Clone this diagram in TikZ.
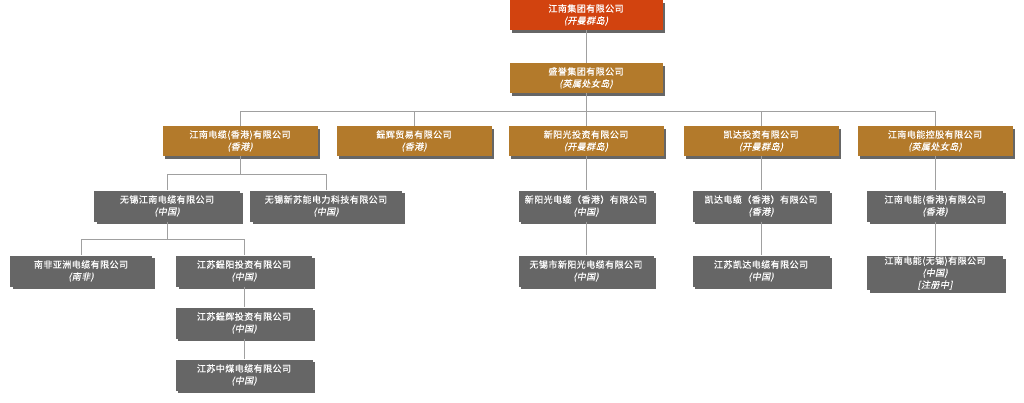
\documentclass[tikz,border=0pt]{standalone}
\usepackage{fontspec}
\usepackage{tikz}
\usetikzlibrary{shadows}
\newfontfamily\cjk[LetterSpace=5,FakeBold=0.6]{Noto Sans CJK SC}
\newfontfamily\cjkit[LetterSpace=5,FakeBold=0.6,FakeSlant=0.2]{Noto Sans CJK SC}
\definecolor{toporange}{HTML}{D2430F}
\definecolor{holdbrown}{HTML}{B37A2B}
\definecolor{subgray}{HTML}{666666}
\definecolor{linkgray}{HTML}{A0A0A0}

\begin{document}
\begin{tikzpicture}[
        x=1pt, y=-1pt,
        orgbox/.style={minimum height=30pt, inner sep=0pt, align=center, text=white,
            font=\cjk\fontsize{9}{12}\selectfont,
            drop shadow={shadow xshift=2.5pt, shadow yshift=-2.5pt, fill=black, opacity=0.6}},
        topbox/.style={orgbox, fill=toporange, minimum width=153pt},
        holdbox/.style={orgbox, fill=holdbrown, minimum width=155pt},
        subbox/.style={orgbox, fill=subgray, minimum width=136pt, minimum height=31pt},
        link/.style={draw=linkgray, line width=0.8pt}
    ]
    \useasboundingbox (0,0) rectangle (1024,402);

    % ---- TOP ----
    \node[topbox] (jiangnan) at (586, 15) {江南集团有限公司\\{\cjkit (开曼群岛)}};
    \node[holdbox, minimum width=153pt] (shengyu) at (586, 78) {盛誉集团有限公司\\{\cjkit (英属处女岛)}};

    % ---- LEVEL 2 ----
    \node[holdbox] (jncable) at (240, 141) {江南电缆(香港)有限公司\\{\cjkit (香港)}};
    \node[holdbox] (zenghui) at (414, 141) {鋥辉贸易有限公司\\{\cjkit (香港)}};
    \node[holdbox] (xyginv) at (586, 141) {新阳光投资有限公司\\{\cjkit (开曼群岛)}};
    \node[holdbox] (kdinv) at (761, 141) {凯达投资有限公司\\{\cjkit (开曼群岛)}};
    \node[holdbox] (jnpower) at (935, 141) {江南电能控股有限公司\\{\cjkit (英属处女岛)}};

    % ---- LEVEL 3 ----
    \node[subbox, minimum width=146pt] (wxjn) at (167, 206) {无锡江南电缆有限公司\\{\cjkit (中国)}};
    \node[subbox, minimum width=152pt] (wxxsn) at (326, 206) {无锡新苏能电力科技有限公司\\{\cjkit (中国)}};
    \node[subbox, minimum width=135pt] (xygcable) at (586, 206) {新阳光电缆（香港）有限公司\\{\cjkit (中国)}};
    \node[subbox, minimum width=137pt] (kdcable) at (761, 206) {凯达电缆（香港）有限公司\\{\cjkit (香港)}};
    \node[subbox] (jnpowerhk) at (935, 206) {江南电能(香港)有限公司\\{\cjkit (香港)}};

    % ---- LEVEL 4 ----
    \node[subbox, minimum width=142pt] (nanfei) at (81, 271) {南非亚洲电缆有限公司\\{\cjkit (南非)}};
    \node[subbox] (zengyang) at (244, 271) {江苏鋥阳投资有限公司\\{\cjkit (中国)}};
    \node[subbox, minimum width=135pt] (wxxyg) at (586, 271) {无锡市新阳光电缆有限公司\\{\cjkit (中国)}};
    \node[subbox, minimum width=137pt] (jskd) at (761, 271) {江苏凯达电缆有限公司\\{\cjkit (中国)}};
    \node[subbox, minimum height=34pt] (jnpowerwx) at (935, 273) {江南电能(无锡)有限公司\\{\cjkit (中国)}\\{\cjkit [注册中]}};

    % ---- LEVEL 5, 6 ----
    \node[subbox, minimum width=137pt] (zenghuiinv) at (244, 323) {江苏鋥辉投资有限公司\\{\cjkit (中国)}};
    \node[subbox, minimum width=137pt] (zhongmei) at (244, 375) {江苏中煤电缆有限公司\\{\cjkit (中国)}};

    % ---- CONNECTORS ----
    \coordinate (busa) at (0, 111);
    \coordinate (busb) at (0, 174);
    \coordinate (busc) at (0, 239);

    \draw[link] (jiangnan.south) -- (shengyu.north);
    \draw[link] (shengyu.south) -- (shengyu.south |- busa);
    \draw[link] (shengyu.south |- busa) -| (jncable.north);
    \draw[link] (shengyu.south |- busa) -| (zenghui.north);
    \draw[link] (shengyu.south |- busa) -| (jnpower.north);
    \draw[link] (shengyu.south |- busa) -| (kdinv.north);
    \draw[link] (shengyu.south) -- (xyginv.north);

    \draw[link] (jncable.south) -- (jncable.south |- busb);
    \draw[link] (jncable.south |- busb) -| (wxjn.north);
    \draw[link] (jncable.south |- busb) -| (wxxsn.north);

    \draw[link] (wxjn.south) -- (wxjn.south |- busc);
    \draw[link] (wxjn.south |- busc) -| (nanfei.north);
    \draw[link] (wxjn.south |- busc) -| (zengyang.north);
    \draw[link] (zengyang) -- (zenghuiinv);
    \draw[link] (zenghuiinv) -- (zhongmei);

    \draw[link] (xyginv.south) -- (xygcable.north);
    \draw[link] (xygcable) -- (wxxyg);
    \draw[link] (kdinv.south) -- (kdcable.north);
    \draw[link] (kdcable) -- (jskd);
    \draw[link] (jnpower.south) -- (jnpowerhk.north);
    \draw[link] (jnpowerhk) -- (jnpowerwx);

\end{tikzpicture}
\end{document}
